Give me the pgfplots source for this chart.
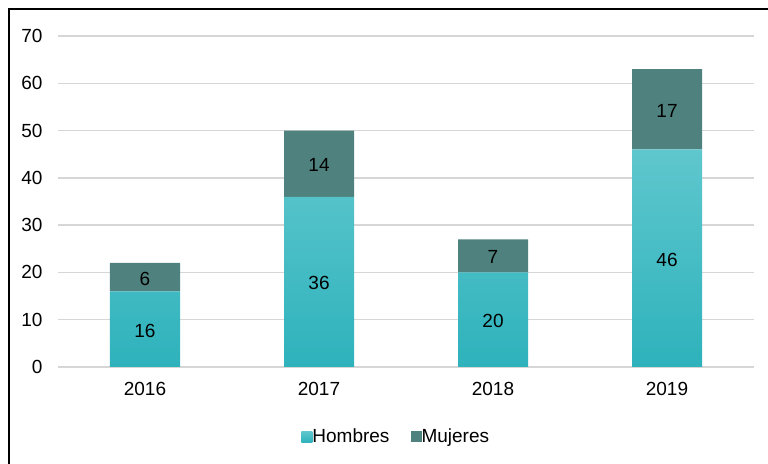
\documentclass[border=0pt]{standalone}
\usepackage{pgfplots}
\pgfplotsset{compat=1.18}
\usepackage{pgfplotstable}
\usepackage{fontspec}
\setmainfont{Liberation Sans}
\definecolor{hTop}{HTML}{5FC7CD}
\definecolor{hBot}{HTML}{2EB2BC}
\definecolor{muj}{HTML}{4F827E}
\definecolor{grid}{HTML}{D6D6D6}
\newcommand\fs{\fontsize{19}{22}\selectfont}
\pgfplotstableread{
x h m
0 16 6
1 36 14
2 20 7
3 46 17
}\data
\pgfplotstableread{
x y lab
0 8 16
1 18 36
2 10 20
3 23 46
0 19 6
1 43 14
2 23.5 7
3 54.5 17
}\labels
\begin{document}
\fs
\begin{tikzpicture}[x=1pt,y=1pt]
\useasboundingbox (0,0) rectangle (768,463);
\draw[line width=2pt] (9,-2) -- (9,454) -- (770,454);
\begin{axis}[
  at={(58pt,96pt)}, anchor=south west,
  scale only axis, width=696pt, height=331pt,
  ybar stacked, bar width=70pt,
  xmin=-0.5, xmax=3.5, ymin=0, ymax=70,
  xtick={0,1,2,3}, xticklabels={2016,2017,2018,2019},
  ytick={0,10,...,70},
  axis line style={draw=none},
  major tick length=0pt,
  ymajorgrids, grid style={color=grid, line width=1.5pt},
  /pgf/number format/assume math mode=true,
  ticklabel style={font=\fs},
  yticklabel style={xshift=-9pt},
  xticklabel style={yshift=-9pt},
  legend style={at={(0.486,-0.211)}, anchor=center, legend columns=2, draw=none, fill=none,
    font=\fs, /tikz/every even column/.append style={column sep=19pt}},
  legend image code/.code={\path[#1, draw=none] (0pt,-5.5pt) rectangle (11pt,5.5pt);},
  clip=false,
]
\addplot[draw=none, top color=hTop, bottom color=hBot, shading=axis] table[x=x,y=h]{\data};
\addlegendentry{\hspace{-2pt}Hombres}
\addplot[draw=none, fill=muj] table[x=x,y=m]{\data};
\addlegendentry{\hspace{-2pt}Mujeres}
\end{axis}
\begin{axis}[
  at={(58pt,96pt)}, anchor=south west,
  scale only axis, width=696pt, height=331pt,
  xmin=-0.5, xmax=3.5, ymin=0, ymax=70,
  hide axis, clip=false,
]
\addplot[draw=none, mark=none, nodes near coords, point meta=explicit symbolic,
  every node near coord/.append style={anchor=center, font=\fs, text=black, yshift=-1.5pt}]
  table[x=x, y=y, meta=lab]{\labels};
\end{axis}
\end{tikzpicture}
\end{document}
